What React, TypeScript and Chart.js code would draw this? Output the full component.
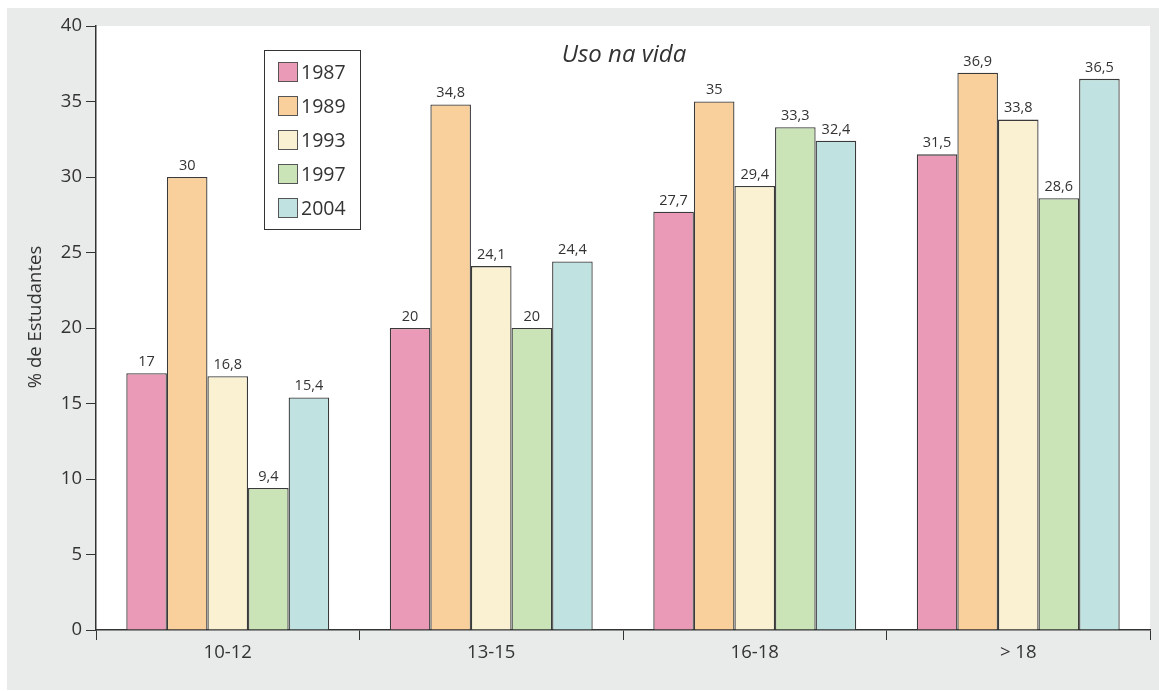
import React, { useEffect, useRef } from "react";
import { Chart, registerables } from "chart.js";

Chart.register(...registerables);

const categories = ["10-12", "13-15", "16-18", "> 18"];
const years = ["1987", "1989", "1993", "1997", "2004"];
const v1987 = [17, 20, 27.7, 31.5];
const v1989 = [30, 34.8, 35, 36.9];
const v1993 = [16.8, 24.1, 29.4, 33.8];
const v1997 = [9.4, 20, 33.3, 28.6];
const v2004 = [15.4, 24.4, 32.4, 36.5];
const colors = ["#ea9ab6", "#f9d09c", "#f9f1d1", "#cae4b7", "#c0e3e1"];
const titleText = "Uso na vida";
const yTitle = "% de Estudantes";

const FONT = "'Open Sans', 'Noto Sans', sans-serif";
const INK = "#333333";

const fmt = (v: number) => String(v).replace(".", ",");

const customPlugin = {
  id: "custom",
  beforeDraw(chart: any) {
    const { ctx, width, height, chartArea } = chart;
    ctx.save();
    ctx.fillStyle = "#e9eaea";
    ctx.fillRect(0, 0, width, height);
    ctx.fillStyle = "#ffffff";
    ctx.fillRect(chartArea.left, chartArea.top, chartArea.right - chartArea.left, chartArea.bottom - chartArea.top);
    ctx.restore();
  },
  afterDraw(chart: any) {
    const { ctx, chartArea } = chart;
    ctx.save();
    // data labels
    ctx.fillStyle = INK;
    ctx.font = `14.5px ${FONT}`;
    ctx.textAlign = "center";
    ctx.textBaseline = "bottom";
    chart.data.datasets.forEach((ds: any, i: number) => {
      const meta = chart.getDatasetMeta(i);
      meta.data.forEach((bar: any, j: number) => {
        ctx.fillText(fmt(ds.data[j]), bar.x, bar.y - 4);
      });
    });
    // title
    ctx.font = `italic 24px ${FONT}`;
    ctx.textBaseline = "middle";
    ctx.fillText(titleText, (chartArea.left + chartArea.right) / 2 + 1, chartArea.top + 29);
    // y title
    ctx.save();
    ctx.translate(29, (chartArea.top + chartArea.bottom) / 2 - 11);
    ctx.rotate(-Math.PI / 2);
    ctx.font = `18.5px ${FONT}`;
    ctx.fillText(yTitle, 0, 0);
    ctx.restore();
    // legend
    const lx = chartArea.left + 168;
    const ly = chartArea.top + 24;
    ctx.fillStyle = "#ffffff";
    ctx.fillRect(lx, ly, 96, 179);
    ctx.strokeStyle = INK;
    ctx.lineWidth = 1;
    ctx.strokeRect(lx + 0.5, ly + 0.5, 96, 179);
    ctx.font = `19.5px ${FONT}`;
    ctx.textAlign = "left";
    ctx.textBaseline = "middle";
    years.forEach((y, i) => {
      const cy = ly + 22 + i * 34;
      ctx.fillStyle = colors[i];
      ctx.fillRect(lx + 14, cy - 10, 19, 19);
      ctx.strokeStyle = "#555";
      ctx.strokeRect(lx + 14.5, cy - 9.5, 19, 19);
      ctx.fillStyle = INK;
      ctx.fillText(y, lx + 37, cy + 1);
    });
    ctx.restore();
  },
};

export default function App() {
  const ref = useRef<HTMLCanvasElement>(null);
  useEffect(() => {
    const series = [v1987, v1989, v1993, v1997, v2004];
    const chart = new Chart(ref.current as HTMLCanvasElement, {
      type: "bar",
      data: {
        labels: categories,
        datasets: series.map((d, i) => ({
          label: years[i],
          data: d,
          backgroundColor: colors[i],
          borderColor: "#3a3a3a",
          borderWidth: 1.3,
          borderSkipped: "bottom",
          categoryPercentage: 0.77,
          barPercentage: 1,
        })),
      },
      options: {
        animation: false,
        responsive: false,
        maintainAspectRatio: false,
        layout: { padding: { top: 18, right: 9, left: 0, bottom: 0 } },
        plugins: { legend: { display: false }, tooltip: { enabled: false }, title: { display: false } },
        scales: {
          x: {
            offset: true,
            grid: { drawOnChartArea: false, drawTicks: true, tickLength: 10, color: INK, offset: true },
            border: { color: INK, width: 1.5 },
            ticks: { color: INK, font: { family: FONT, size: 18.5 }, padding: 2 },
            afterFit: (s: any) => { s.height = 60; },
          },
          y: {
            min: 0,
            max: 40,
            ticks: { stepSize: 5, color: INK, font: { family: FONT, size: 18.5 }, padding: 4 },
            grid: { drawOnChartArea: false, drawTicks: true, tickLength: 10, color: INK },
            border: { color: INK, width: 1.5 },
            afterFit: (s: any) => { s.width = 89; },
          },
        },
      },
      plugins: [customPlugin],
    });
    return () => chart.destroy();
  }, []);
  return (
    <div style={{ position: "fixed", left: 0, top: 0, width: 1159, height: 691, background: "#fff" }}>
      <canvas ref={ref} width={1152} height={682} style={{ position: "absolute", left: 7, top: 8, width: 1152, height: 682 }} />
    </div>
  );
}
